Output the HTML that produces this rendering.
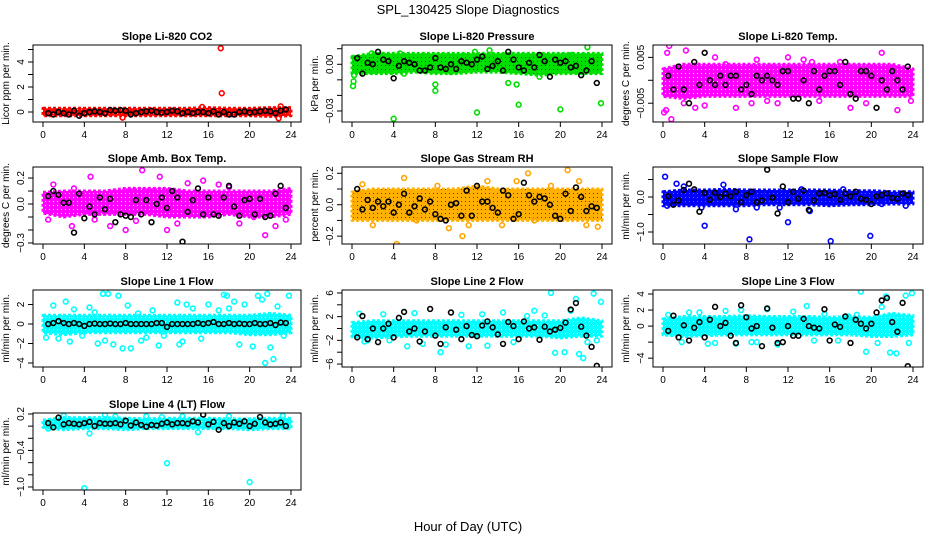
<!DOCTYPE html>
<html><head><meta charset="utf-8">
<style>
html,body{margin:0;padding:0;background:#fff;}
svg{display:block;font-family:"Liberation Sans",Arial,sans-serif;}
</style></head>
<body>
<svg id="chart" width="936" height="540" viewBox="0 0 936 540" xmlns="http://www.w3.org/2000/svg">
<defs id="defs"></defs>
<rect x="0" y="0" width="936" height="540" fill="#fff"/>
<text x="468" y="14" text-anchor="middle" font-size="13">SPL_130425  Slope Diagnostics</text>
<text x="468" y="531" text-anchor="middle" font-size="13">Hour of Day (UTC)</text>
</svg>
<script>
// ---------- data ----------
const xTicks = [0,4,8,12,16,20,24];
const bandHours = [0,2,4,6,8,10,12,14,16,18,20,22,24];

// P1 CO2
const co2Lo = [-0.3,-0.3,-0.3,-0.3,-0.3,-0.3,-0.3,-0.3,-0.3,-0.3,-0.3,-0.35,-0.3];
const co2Hi = [0.3,0.3,0.3,0.3,0.3,0.3,0.3,0.3,0.35,0.3,0.3,0.35,0.35];
const co2OutH = [17.2,17.3,22.8,7.7,15.4,23.0];
const co2OutV = [5.1,1.5,-0.5,-0.45,0.4,0.45];
const co2Black = [-0.1,-0.2,0,-0.1,-0.2,0.1,-0.3,-0.1,0,0.05,0,-0.1,0.15,0.1,0.15,0.1,-0.2,-0.1,0,0.05,0.1,0,-0.05,0,0.1,0.05,-0.1,0,-0.1,0,0,-0.1,0.05,-0.2,0,-0.2,-0.2,0,0.05,-0.05,0,0.05,0.1,0.05,-0.1,0.1,0.2];

// P2 Pressure
const prLo = [-0.006,-0.006,-0.006,-0.005,-0.006,-0.006,-0.005,-0.005,-0.006,-0.007,-0.006,-0.006,-0.006];
const prHi = [0.005,0.007,0.007,0.007,0.007,0.007,0.007,0.007,0.007,0.007,0.007,0.007,0.007];
const prOutH = [0.1,0.15,0.2,4,8,8,12,13.2,15.8,16,15,20,22.6,23.9,11.8,4.6,1.9,21.1,18,5,0.9,9.5];
const prOutV = [-0.014,-0.011,-0.007,-0.035,-0.017,-0.013,-0.031,0.009,-0.013,-0.026,-0.012,-0.029,0.011,-0.025,0.008,0.007,0.007,0.006,-0.008,-0.006,0.004,-0.005];
const prBlack = [0.004,-0.006,0.001,0,0.008,0.003,0.002,-0.009,-0.001,0.002,0.001,0,-0.004,-0.004,-0.002,0.004,-0.002,-0.003,0,-0.003,0.002,0.001,0,0.003,0.005,-0.003,-0.001,0.002,-0.004,0.008,0.003,-0.002,-0.004,0.001,-0.002,0.006,0.002,-0.008,0.003,0.001,0.002,-0.002,-0.001,-0.007,-0.004,0.002,-0.012];

// P3 Li-820 Temp
const tpLo = [-0.0035,-0.004,-0.0035,-0.0035,-0.0035,-0.0035,-0.0035,-0.0035,-0.0035,-0.0035,-0.0035,-0.0035,-0.0035];
const tpHi = [0.0025,0.0035,0.0035,0.0035,0.0035,0.0035,0.0035,0.0035,0.0035,0.0035,0.0035,0.0035,0.0025];
const tpOutH = [0.1,0.3,0.8,0.6,0.4,2.2,3.1,4,5,7,10,12,13.5,17,18,21,22.5,23.8,9,15,6,19.5,11,2,14.3,8.5];
const tpOutV = [-0.007,-0.0065,-0.0085,0.0075,0.006,0.0065,-0.006,-0.0055,0.005,-0.006,-0.0045,0.005,0.0045,0.004,-0.006,0.006,-0.0065,-0.0045,0.0045,-0.0045,0.0035,-0.005,-0.005,-0.005,0.004,-0.005];
const tpBlack = [0.001,-0.002,0.003,-0.002,-0.005,0.004,-0.001,0.006,0,-0.001,0.001,-0.001,0.001,0.001,-0.002,-0.001,-0.003,0.001,0,0.001,0,-0.001,0.002,0.002,-0.004,-0.004,0,-0.005,0.002,-0.002,0.001,0.002,0.002,-0.001,0.004,-0.003,-0.004,0.002,0.002,0.001,-0.006,0,-0.002,0.002,0,-0.002,0.003];

// P4 Amb Box Temp
const abLo = [-0.07,-0.1,-0.08,-0.08,-0.08,-0.08,-0.1,-0.1,-0.1,-0.08,-0.1,-0.1,-0.08];
const abHi = [0.09,0.1,0.1,0.1,0.12,0.12,0.12,0.1,0.1,0.1,0.1,0.1,0.12];
const abOutH = [1,2.8,4.6,9.6,8,11.3,12,13,3,17,19,21.5,23.5,5,14,20.4,9,18,6.5,0.5,15.5,22.5];
const abOutV = [0.15,-0.17,0.21,0.26,-0.2,0.21,-0.2,-0.15,0.12,0.15,-0.15,-0.24,-0.12,-0.12,0.16,-0.1,-0.13,0.13,-0.17,-0.12,0.18,-0.17];
const abBlack = [0.06,0.1,0.07,0.01,0.01,-0.22,0.08,-0.11,-0.02,-0.08,0.05,-0.04,0.04,-0.14,-0.08,-0.09,-0.1,0.03,-0.08,0.03,-0.14,0,0.05,-0.03,0.1,0.05,-0.29,-0.06,0.03,0.12,-0.08,0.05,-0.08,-0.09,0.05,0.14,-0.02,-0.09,0.03,0.04,-0.08,0.04,-0.1,-0.09,0.08,0.14,-0.03];

// P5 Gas Stream RH
const rhLo = [-0.1,-0.1,-0.1,-0.1,-0.1,-0.1,-0.1,-0.1,-0.1,-0.1,-0.1,-0.1,-0.1];
const rhHi = [0.08,0.1,0.1,0.1,0.1,0.1,0.12,0.1,0.1,0.1,0.1,0.1,0.1];
const rhOutH = [4.3,5,10.6,16.9,20.7,23.6,1,8.2,14.4,15.8,2,9.3,21.8,13,17.5,6.2,11.2,19.1,22.5,0.7];
const rhOutV = [-0.25,0.17,-0.2,0.2,0.22,-0.14,0.13,0.12,-0.13,0.15,-0.13,-0.15,0.15,0.15,-0.1,-0.1,-0.13,0.12,-0.13,0.08];
const rhBlack = [0.1,-0.03,0.03,-0.02,0.02,-0.01,0.02,-0.05,0,0.07,-0.05,-0.01,0.04,-0.03,0.02,-0.06,-0.09,-0.1,0,0.01,-0.07,0.09,-0.07,0.12,0.02,0.02,-0.02,-0.05,0.09,0.06,-0.09,-0.06,0.14,0.06,0.02,0.05,0.04,0,-0.07,-0.09,0.07,-0.04,0.11,0.05,-0.04,-0.01,-0.02];

// P6 Sample Flow
const sfLo = [-0.25,-0.25,-0.25,-0.25,-0.25,-0.22,-0.22,-0.22,-0.25,-0.22,-0.22,-0.2,-0.2];
const sfHi = [0.15,0.2,0.2,0.22,0.2,0.2,0.2,0.2,0.2,0.18,0.18,0.15,0.15];
const sfOutH = [0.2,1.3,4,8.3,12,16.1,19.9,5.8,3.7,14.1,7,17.3,21,2,9,0.4,13.3,11.2,23.3];
const sfOutV = [0.58,0.38,-0.82,-1.21,-0.72,-1.26,-1.11,0.35,-0.3,-0.4,-0.35,0.22,-0.2,0.3,-0.3,-0.25,0.22,-0.3,-0.25];
const sfBlack = [0.02,-0.22,-0.1,0.2,0.38,0.22,-0.42,0.12,-0.08,0.12,0,0.1,0.02,0.15,-0.15,0.05,0.15,-0.15,-0.1,0.78,-0.02,-0.47,0.3,-0.15,0.15,-0.05,0.18,-0.37,-0.1,0.1,0.12,0.05,0.08,-0.08,0.1,0.02,0.15,-0.05,-0.08,-0.2,0.02,0.05,0.1,-0.03,-0.05,0.1,0.05];

// P7 Line 1 Flow
const l1Lo = [-0.9,-1.1,-0.9,-0.9,-0.9,-0.9,-0.9,-0.9,-0.9,-0.9,-1.1,-1.1,-0.9];
const l1Hi = [0.9,0.9,0.9,0.9,0.9,0.9,0.9,0.9,0.9,0.9,0.9,1.1,0.9];
const l1OutH = [0.3,1,1.5,2.2,3,3.8,4.5,5.3,5.8,6.3,6.8,7.3,7.7,8.2,8.5,9.2,10,10.6,11.2,11.7,13,13.5,13.9,14.5,15.3,16,17,17.5,18,18.5,19,19.5,20.3,20.8,21.2,21.5,21.7,22,22.3,22.7,23.3,23.8,5,9.5,13.2,17.8,2.6,6];
const l1OutV = [-1.4,1.9,-1.5,2.3,1.5,-1.2,1.7,-2,3.1,3.1,-2.1,2.9,-2.5,1.9,-2.5,1.1,-1.4,1.4,-2.2,-1.2,2.2,-1.8,2,1.6,-1.5,2,1.4,3,1.6,2.3,-2.1,2,-2.3,2.9,2.5,-4,3.1,-2.4,-3.6,1.8,-1.2,2.9,1.2,-1.7,-2.1,2.9,-1.8,-1.7];
const l1Black = [0,0.1,0.3,0.1,0,0.1,0,-0.2,0,0.05,0,0,0.05,0,0,0.1,0,0,0,0,0,0.1,0.1,-0.3,0,0,0,0,0,0.1,0,0.1,0.2,0,0,0.1,0,0.05,0,0,0.1,0,0,0.1,-0.1,0.15,0.1];

// P8 Line 2 Flow
const l2Lo = [-1.4,-1.6,-1.4,-1.3,-1.3,-1.3,-1.3,-1.3,-1.3,-1.3,-1.6,-1.3,-1.3];
const l2Hi = [1,1.3,1.3,1.3,1.3,1.3,1.3,1.3,1.3,1.3,1.3,1.8,1.3];
const l2OutH = [0.7,1.5,3,5.3,6,8.5,9,10.5,11.2,12.5,13,14.5,15.5,17.5,18.5,19.1,19.5,20.4,21,21.5,21.8,22.2,22.6,23.2,23.5,23.9,6.8,16.8,1.2,3.6];
const l2OutV = [2.5,-2,2.4,-3,2.6,-4,-2.7,2.3,-3,2.4,-2.9,2.7,-2.3,3,2.2,6,-4.1,-4,3,5,-4.3,-5,-2.3,5.9,-2,4.5,-2.6,2.1,-2.2,-2];
const l2Black = [-1.5,2.1,-1.8,0,-2.3,0,0.8,-1.5,1.8,2.8,-0.5,0,-2.2,-0.5,3.3,-1.2,-2.6,0.2,2.7,-0.2,-1.8,0.4,-1.1,-1.3,0.5,1.2,0.2,-1,-2.6,1.1,0.4,-1.8,1.2,0,0.2,-1.9,0.3,-0.5,-0.2,0.1,1,3.2,4.3,0.3,-1.2,-3.1,-6.3];

// P9 Line 3 Flow
const l3Lo = [-1.1,-1.3,-1.2,-1.1,-1.1,-1.1,-1.1,-1.1,-1.1,-1.1,-1.3,-1.3,-1.1];
const l3Hi = [0.9,1.2,1.2,1.2,1.3,1.2,1.2,1.2,1.1,1.2,1.1,1.6,1.3];
const l3OutH = [0.5,1.8,2.5,3.5,5,6,7,7.5,9,10,11,12.5,13.8,14.5,15.5,16.8,17.8,18.6,19,19.5,20.6,21,21.4,21.8,22.4,23.3,23.6,23.9,4.3,8.5];
const l3OutV = [1.4,-2,1.7,1.7,-2.1,1.9,-2.2,2,-2,2.1,-2.3,1.8,2.5,-1.8,1.5,-1.8,1.2,1.4,4.3,-3.2,-2.1,2.4,3.7,-3.3,-3.4,3.8,-2.1,4.1,-2.2,-2];
const l3Black = [-0.6,1.3,-1.4,0.1,-1.8,-0.2,0.5,-1.4,0.8,2.4,0,0.4,-1.2,-2.1,2.6,1.1,-0.3,0,-2.5,2.2,-0.2,-2.1,-2,0,-1.2,-1.2,0.9,0,-0.2,-0.3,2.1,-1.8,0.2,-0.1,1.2,-2.1,0.8,0.3,-0.3,0.3,1.7,3.2,3.5,0.5,-0.7,2.9,-5];

// P10 Line 4 (LT) Flow
const l4Lo = [-0.02,-0.06,-0.04,-0.04,-0.06,-0.04,-0.04,-0.04,-0.04,-0.04,-0.06,-0.04,-0.04];
const l4Hi = [0.1,0.14,0.14,0.14,0.13,0.12,0.13,0.13,0.13,0.12,0.12,0.13,0.13];
const l4OutH = [4,12,20,4.5,10,15,7,2,6,13.5,18,23.2,0.5,11.5];
const l4OutV = [-1.02,-0.61,-0.92,-0.12,0.16,-0.1,0.16,0.17,0.18,0.16,0.16,0.17,-0.04,0.15];
const l4Black = [0.05,-0.02,0.14,0.03,0.05,0.04,0.03,0.05,0.07,0,0.05,0.04,0.04,0.05,0.03,0.09,0.01,0.06,0.02,-0.01,0.02,0.01,0.04,0.06,0.03,0.05,0.05,0.04,0.08,0.06,0.19,0.03,0.07,-0.06,0.05,0,0.06,0.04,0.08,0,0.04,0.15,0.06,0.03,0.04,0.06,0];

// ---------- layout ----------
const colLeft = [33, 342, 653];
const colRight = [301, 612, 923];
const rowTop = [45, 167, 290, 413];
const rowH = 77;

const panels = [
 {name:'co2', title:'Slope Li-820 CO2', ylab:'Licor ppm per min.', col:0,row:0, yMin:-0.8, yMax:5.36, ticks:[0,1,2,3,4,5], labels:[0,2,4], fmt:v=>String(v), color:'#ff0000', band:'#ff0000', dot:'#ff8080', lo:co2Lo, hi:co2Hi, oh:co2OutH, ov:co2OutV, blk:co2Black},
 {name:'pressure', title:'Slope Li-820 Pressure', ylab:'kPa per min.', col:1,row:0, yMin:-0.0371, yMax:0.0124, ticks:[0.01,0,-0.01,-0.02,-0.03], labels:[0,-0.03], fmt:v=>v.toFixed(2), color:'#00dd00', band:'#00e000', dot:'#005000', lo:prLo, hi:prHi, oh:prOutH, ov:prOutV, blk:prBlack},
 {name:'li820-temp', title:'Slope Li-820 Temp.', ylab:'degrees C per min.', col:2,row:0, yMin:-0.0091, yMax:0.0077, ticks:[0.005,0,-0.005], labels:[0.005,-0.005], fmt:v=>v.toFixed(3), color:'#ff00ff', band:'#ff00ff', dot:'#ffffff', lo:tpLo, hi:tpHi, oh:tpOutH, ov:tpOutV, blk:tpBlack},
 {name:'amb-box-temp', title:'Slope Amb. Box Temp.', ylab:'degrees C per min.', col:0,row:1, yMin:-0.308, yMax:0.285, ticks:[0.2,0.1,0,-0.1,-0.2,-0.3], labels:[0.2,0,-0.3], fmt:v=>v.toFixed(1), color:'#ff00ff', band:'#ff00ff', dot:'#ffffff', lo:abLo, hi:abHi, oh:abOutH, ov:abOutV, blk:abBlack},
 {name:'gas-stream-rh', title:'Slope Gas Stream RH', ylab:'percent per min.', col:1,row:1, yMin:-0.25, yMax:0.24, ticks:[0.2,0.1,0,-0.1,-0.2], labels:[0.2,0,-0.2], fmt:v=>v.toFixed(1), color:'#ffa500', band:'#ffb000', dot:'#e00000', lo:rhLo, hi:rhHi, oh:rhOutH, ov:rhOutV, blk:rhBlack},
 {name:'sample-flow', title:'Slope Sample Flow', ylab:'ml/min per min.', col:2,row:1, yMin:-1.343, yMax:0.857, ticks:[0.5,0,-0.5,-1], labels:[0,-1], fmt:v=>v.toFixed(1), color:'#0000ff', band:'#0000ff', dot:'#6060ff', lo:sfLo, hi:sfHi, oh:sfOutH, ov:sfOutV, blk:sfBlack},
 {name:'line1-flow', title:'Slope Line 1 Flow', ylab:'ml/min per min.', col:0,row:2, yMin:-4.41, yMax:3.49, ticks:[2,0,-2,-4], labels:[2,0,-2,-4], fmt:v=>String(v), color:'#00ffff', band:'#00ffff', dot:'#ffffff', lo:l1Lo, hi:l1Hi, oh:l1OutH, ov:l1OutV, blk:l1Black},
 {name:'line2-flow', title:'Slope Line 2 Flow', ylab:'ml/min per min.', col:1,row:2, yMin:-6.5, yMax:6.5, ticks:[6,4,2,0,-2,-4,-6], labels:[6,2,-2,-6], fmt:v=>String(v), color:'#00ffff', band:'#00ffff', dot:'#ffffff', lo:l2Lo, hi:l2Hi, oh:l2OutH, ov:l2OutV, blk:l2Black},
 {name:'line3-flow', title:'Slope Line 3 Flow', ylab:'ml/min per min.', col:2,row:2, yMin:-5.1, yMax:4.5, ticks:[4,2,0,-2,-4], labels:[4,2,0,-4], fmt:v=>String(v), color:'#00ffff', band:'#00ffff', dot:'#ffffff', lo:l3Lo, hi:l3Hi, oh:l3OutH, ov:l3OutV, blk:l3Black},
 {name:'line4-flow', title:'Slope Line 4 (LT) Flow', ylab:'ml/min per min.', col:0,row:3, yMin:-1.05, yMax:0.216, ticks:[0.2,0,-0.2,-0.4,-0.6,-0.8,-1], labels:[0.2,-0.4,-1], fmt:v=>v.toFixed(1), color:'#00ffff', band:'#00ffff', dot:'#ffffff', lo:l4Lo, hi:l4Hi, oh:l4OutH, ov:l4OutV, blk:l4Black}
];

const NS='http://www.w3.org/2000/svg';
const svg=document.getElementById('chart');
const defs=document.getElementById('defs');
function mk(tag,attrs,parent){const e=document.createElementNS(NS,tag);for(const k in attrs)e.setAttribute(k,attrs[k]);(parent||svg).appendChild(e);return e;}

panels.forEach(p=>{
  const L=colLeft[p.col], R=colRight[p.col], T=rowTop[p.row], B=T+rowH;
  const x0=L+10, x1=R-10;
  const xs=h=>x0+(x1-x0)*h/24;
  const ys=v=>B-(v-p.yMin)/(p.yMax-p.yMin)*rowH;
  // speckle pattern
  const pat=mk('pattern',{id:'pat-'+p.name,width:4,height:4,patternUnits:'userSpaceOnUse'},defs);
  mk('rect',{x:0,y:0,width:4,height:4,fill:p.band},pat);
  mk('rect',{x:1,y:1,width:1,height:1,fill:p.dot},pat);
  const g=mk('g',{});
  
  
  const clip=mk('clipPath',{id:'c-'+p.name},g);
  mk('rect',{x:L,y:T,width:R-L,height:rowH},clip);
  const data=mk('g',{'clip-path':'url(#c-'+p.name+')'},g);
  let pts=bandHours.map((h,i)=>xs(h)+','+ys(p.hi[i]));
  pts=pts.concat(bandHours.slice().reverse().map((h,j)=>{const i=bandHours.length-1-j;return xs(h)+','+ys(p.lo[i]);}));
  const band=mk('polygon',{points:pts.join(' '),fill:'url(#pat-'+p.name+')',stroke:p.band,'stroke-width':3,'stroke-linejoin':'round','stroke-dasharray':'3 2'},data);
  
  
  p.oh.forEach((h,i)=>{
    const c=mk('circle',{cx:xs(h),cy:ys(p.ov[i]),r:2.4,fill:'none',stroke:p.color,'stroke-width':1.6},data);
    
    
  });
  p.blk.forEach((v,i)=>{
    const c=mk('circle',{cx:xs(0.5+0.5*i),cy:ys(v),r:2.4,fill:'none',stroke:'#000','stroke-width':1.6},data);
    
    
  });
  mk('rect',{x:L,y:T,width:R-L,height:rowH,fill:'none',stroke:'#000','stroke-width':1},g);
  xTicks.forEach(t=>{
    mk('line',{x1:xs(t),x2:xs(t),y1:B,y2:B+5,stroke:'#000'},g);
    const tx=mk('text',{x:xs(t),y:B+16,'text-anchor':'middle','font-size':10},g);
    tx.textContent=t;
    
    
  });
  p.ticks.forEach(t=>{ if(t>=p.yMin&&t<=p.yMax) mk('line',{x1:L-5,x2:L,y1:ys(t),y2:ys(t),stroke:'#000'},g); });
  p.labels.forEach(t=>{
    const y=ys(t);
    const tx=mk('text',{x:L-9,y:y,'text-anchor':'middle','font-size':10,transform:'rotate(-90 '+(L-9)+' '+y+')'},g);
    tx.textContent=p.fmt(t).replace('-','\u2212');
    
    
  });
  const yl=mk('text',{x:L-24,y:T+rowH/2,'text-anchor':'middle','font-size':10,transform:'rotate(-90 '+(L-24)+' '+(T+rowH/2)+')'},g);
  yl.textContent=p.ylab;
  
  
  const tt=mk('text',{x:(L+R)/2,y:T-5,'text-anchor':'middle','font-size':11,'font-weight':'bold'},g);
  tt.textContent=p.title;
  
  
});
</script>
</body></html>
